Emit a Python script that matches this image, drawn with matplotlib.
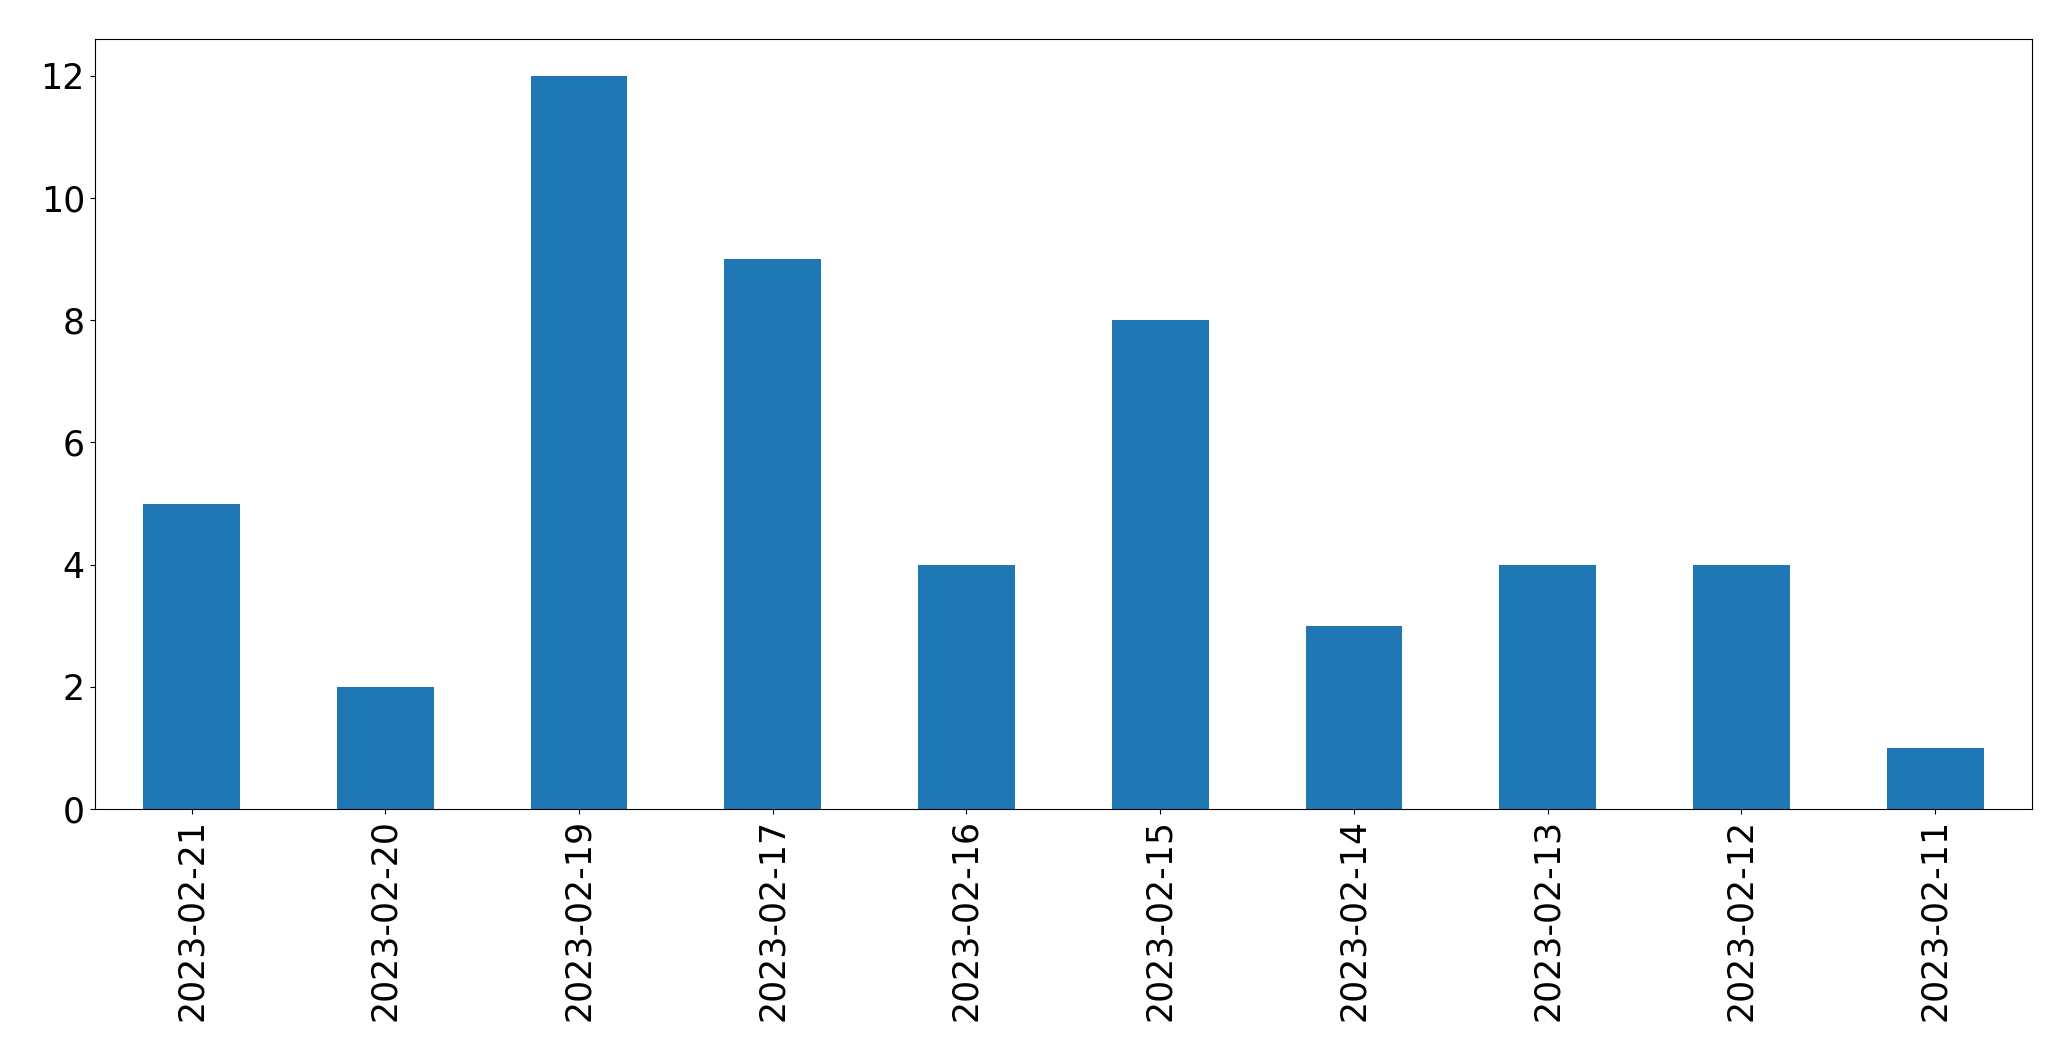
import matplotlib
matplotlib.use('Agg')
import matplotlib.pyplot as plt

dates = ['2023-02-21', '2023-02-20', '2023-02-19', '2023-02-17', '2023-02-16',
         '2023-02-15', '2023-02-14', '2023-02-13', '2023-02-12', '2023-02-11']
counts = [5, 2, 12, 9, 4, 8, 3, 4, 4, 1]

fig = plt.figure(figsize=(20.71, 10.61), dpi=100)
ax = fig.add_axes([0.0457, 0.2375, 0.9355, 0.7255])

x = range(len(dates))
ax.bar(x, counts, width=0.5, color='#1f77b4')
ax.set_xlim(-0.5, len(dates) - 0.5)
ax.set_xticks(list(x))
ax.set_xticklabels(dates, rotation=90, fontsize=25)
ax.tick_params(axis='y', labelsize=25)

fig.savefig('out.png', dpi=100)
